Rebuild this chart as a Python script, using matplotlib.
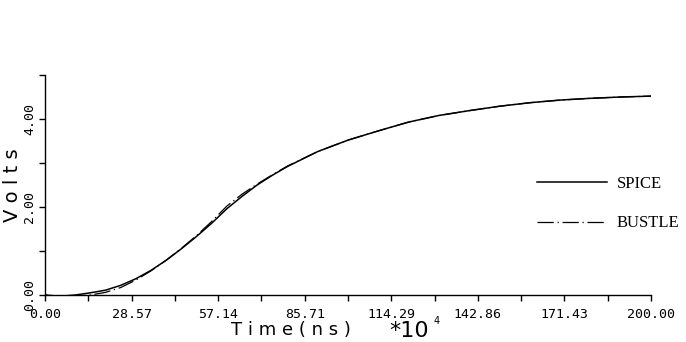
import numpy as np
import matplotlib
matplotlib.use("Agg")
import matplotlib.pyplot as plt
from matplotlib.ticker import FixedLocator, NullFormatter

# time axis in units of 1e4 ns, voltage in volts
time = [0, 5, 10, 15, 20, 25, 30, 35, 40, 45, 50, 55, 60, 65, 70, 75, 80,
        90, 100, 110, 120, 130, 140, 150, 160, 170, 180, 190, 200]
spice = [0.0, -0.03, 0.0, 0.05, 0.11, 0.22, 0.37, 0.56, 0.79, 1.05, 1.33, 1.63,
         1.96, 2.24, 2.50, 2.72, 2.92, 3.26, 3.52, 3.73, 3.93, 4.08, 4.19,
         4.29, 4.37, 4.43, 4.47, 4.50, 4.52]
bustle = [0.0, -0.07, -0.03, 0.0, 0.06, 0.17, 0.34, 0.55, 0.79, 1.06, 1.35, 1.67,
          2.02, 2.29, 2.52, 2.73, 2.93, 3.26, 3.52, 3.73, 3.93, 4.08, 4.19,
          4.29, 4.37, 4.43, 4.47, 4.50, 4.52]

x_major = np.linspace(0, 200, 8)
x_minor = np.linspace(0, 200, 15)
x_labels = ["0.00", "28.57", "57.14", "85.71", "114.29", "142.86", "171.43", "200.00"]
y_major = [0, 2, 4]
y_minor = [1, 3, 5]
y_labels = ["0.00", "2.00", "4.00"]

fig = plt.figure(figsize=(6.86, 3.42), dpi=100)
ax = fig.add_axes([45 / 686, 47 / 342, 606 / 686, 220 / 342])

ax.plot(time, spice, color="black", lw=1.1, label="SPICE")
ax.plot(time, bustle, color="black", lw=0.9, linestyle=(0, (13, 3, 1, 3)),
        label="BUSTLE")

ax.set_xlim(0, 200)
ax.set_ylim(0, 5)
for s in ["top", "right"]:
    ax.spines[s].set_visible(False)
ax.spines["left"].set_linewidth(1.0)
ax.spines["bottom"].set_linewidth(1.0)

ax.xaxis.set_major_locator(FixedLocator(x_major))
ax.xaxis.set_minor_locator(FixedLocator(x_minor))
ax.set_xticklabels(x_labels, family="DejaVu Sans Mono", fontsize=9.5)
ax.xaxis.set_minor_formatter(NullFormatter())
ax.yaxis.set_major_locator(FixedLocator(y_major))
ax.yaxis.set_minor_locator(FixedLocator(y_minor))
ax.set_yticklabels(y_labels, family="DejaVu Sans Mono", fontsize=9.5,
                   rotation=90, va="center")
ax.tick_params(axis="x", which="both", direction="out", length=4, width=1, pad=5)
ax.tick_params(axis="y", which="both", direction="out", length=4.5, width=1, pad=2)

ax.set_ylabel("V o l t s", fontsize=14, labelpad=1)
fig.text(291 / 686, 1 - 330 / 342, "T i m e ( n s )", fontsize=13,
         ha="center", va="center")
fig.text(409 / 686, 1 - 331 / 342, "*10", fontsize=16, ha="center", va="center")
fig.text(437 / 686, 1 - 321 / 342, "4", fontsize=7, ha="center", va="center")

leg = ax.legend(loc="upper left", bbox_to_anchor=(522 / 686, 1 - 161 / 342),
                bbox_transform=fig.transFigure, frameon=False,
                prop={"family": "Liberation Serif", "size": 12},
                handlelength=4.2, handletextpad=0.6, labelspacing=1.4)

fig.savefig("out.png", dpi=100)
